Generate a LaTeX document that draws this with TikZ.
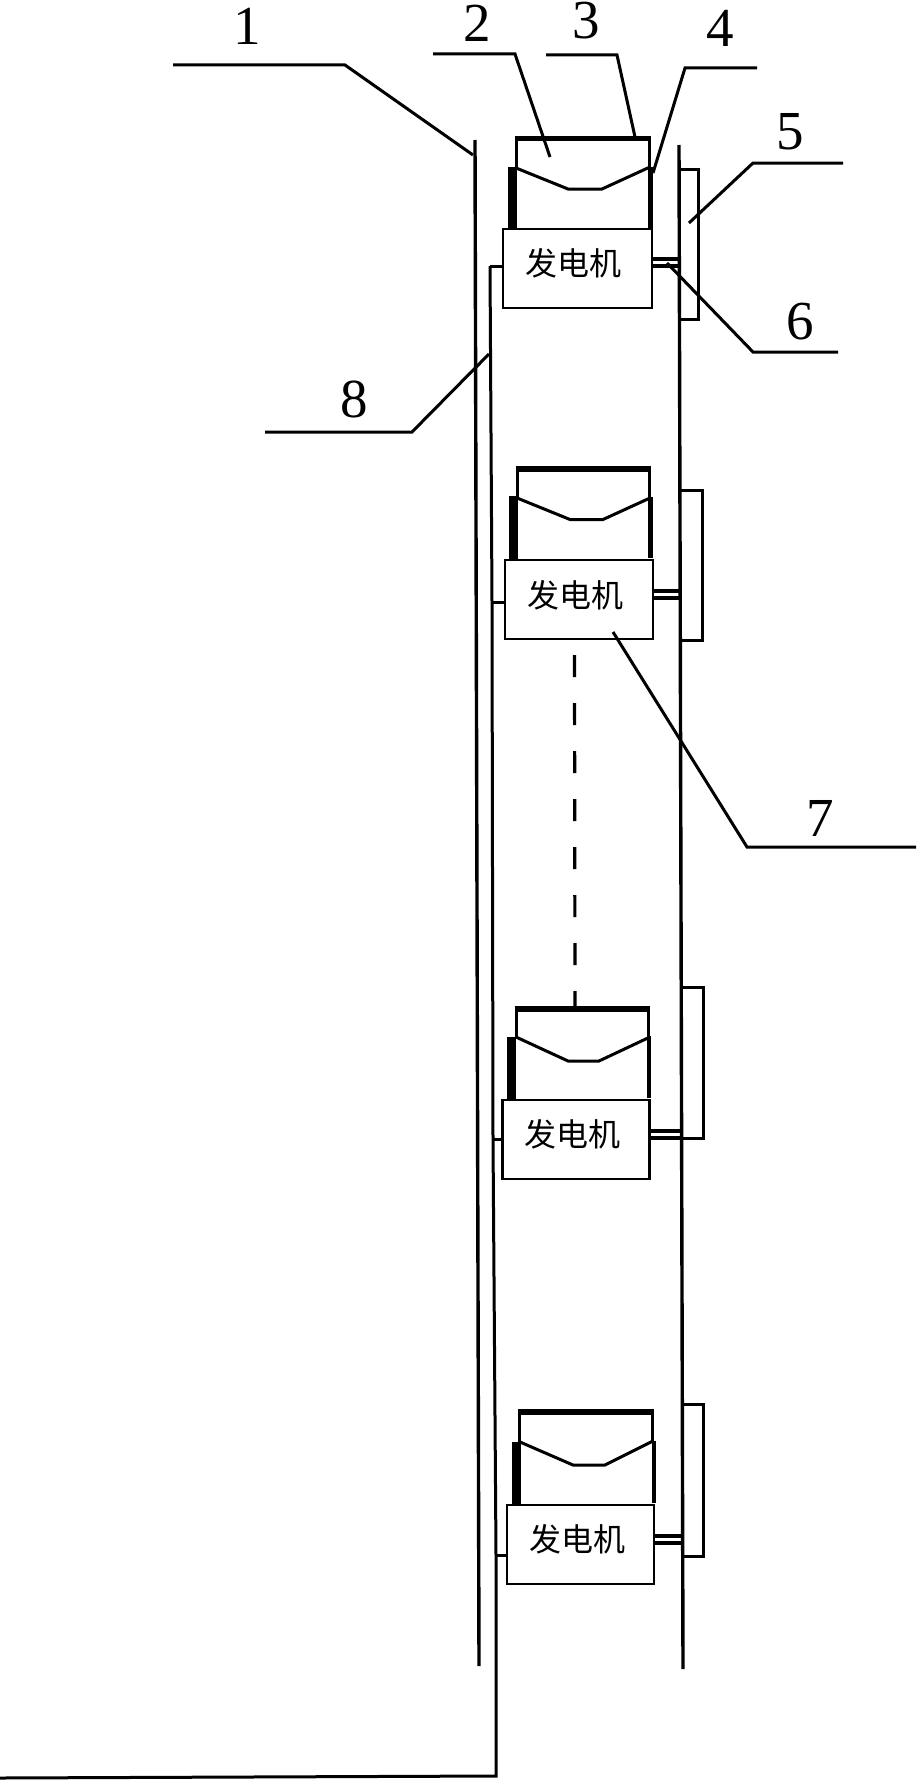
\documentclass[tikz,border=0pt]{standalone}
\usepackage{fontspec}
\setmainfont{Liberation Serif}
\newfontfamily\cjk{Noto Sans CJK SC}
\tikzset{
  wall/.style={line width=3.4pt,black},
  ln/.style={line width=3pt,line join=miter,black},
  thin ln/.style={line width=3.2pt,black},
  topbar/.style={line width=5.5pt,black},
  sidebar/.style={line width=9pt,black},
  rside/.style={line width=4.5pt,black},
  gen/.style={draw=black,line width=2.8pt,fill=white,inner sep=0pt,minimum width=147pt,minimum height=79pt},
  gentext/.style={font=\cjk\fontsize{32}{32}\selectfont,inner sep=0pt,text=black},
  num/.style={font=\fontsize{55}{55}\selectfont,inner sep=0pt,text=black},
  leader/.style={line width=3pt,black},
  dash line/.style={line width=3.2pt,black,dash pattern=on 22pt off 26pt}
}
\begin{document}
\begin{tikzpicture}[x=1pt,y=-1pt]
\useasboundingbox (0,0) rectangle (916,1782);
\fill[white] (0,0) rectangle (916,1782);
% walls
\coordinate (wlt) at (475,140); \coordinate (wlb) at (479,1666);
\coordinate (wrt) at (679,145); \coordinate (wrb) at (683,1669);
\draw[wall] (wlt) -- (wlb);
\draw[wall] (wrt) -- (wrb);
% bus
\coordinate (b1) at (490,266); \coordinate (b2) at (492,602); \coordinate (b3) at (493,1139);
\coordinate (b4) at (496,1555); \coordinate (b5) at (496,1776); \coordinate (b6) at (0,1778);
\draw[ln] (b1) -- (b2) -- (b3) -- (b4) -- (b5) -- (b6);
% unit 1
\draw[ln] (516,138) -- (516,168);
\draw[topbar] (514.5,138.5) -- (650.5,138.5);
\draw[ln] (649,138) -- (649,168);
\draw[rside] (650.5,167) -- (650.5,228);
\draw[sidebar] (512.5,167) -- (512.5,229);
\draw[ln] (516,168) -- (568,189) -- (602,189) -- (650,167);
\node[gen,minimum width=149pt] (g1) at (577.5,268.5) {};
\node[gentext] (t1) at (573,263) {发电机};
\draw[ln] (679,169) -- (698,169) -- (698,319) -- (679,319);
\coordinate (s1a) at (679,259); \coordinate (s1b) at (679,266);
\draw[thin ln] (g1.east |- s1a) -- (s1a);
\draw[thin ln] (g1.east |- s1b) -- (s1b);
\draw[ln] (b1) -- (g1.west |- b1);
% unit 2
\draw[ln] (517,469) -- (517,498);
\draw[topbar] (515.5,469) -- (650.5,469);
\draw[ln] (649,469) -- (649,498);
\draw[rside] (650.5,497) -- (650.5,558);
\draw[sidebar] (513,496) -- (513,559);
\draw[ln] (517,498) -- (570,519.5) -- (603,519.5) -- (650,498);
\node[gen,minimum width=148pt] (g2) at (579,599.5) {};
\node[gentext] (t2) at (575,595) {发电机};
\draw[ln] (680,490) -- (702,490) -- (702,640) -- (680,640);
\coordinate (s2a) at (680,591); \coordinate (s2b) at (680,598);
\draw[thin ln] (g2.east |- s2a) -- (s2a);
\draw[thin ln] (g2.east |- s2b) -- (s2b);
\draw[ln] (b2) -- (g2.west |- b2);
% unit 3
\draw[ln] (516,1009) -- (516,1037);
\draw[topbar] (514.5,1009) -- (649.5,1009);
\draw[ln] (648,1009) -- (648,1037);
\draw[rside] (649,1036) -- (649,1098);
\draw[sidebar] (511.5,1037) -- (511.5,1099);
\draw[ln] (516,1037) -- (568,1061) -- (599,1061) -- (650,1037);
\node[gen] (g3) at (576,1139.5) {};
\node[gentext] (t3) at (572,1134) {发电机};
\draw[ln] (681,987) -- (703,987) -- (703,1138) -- (681,1138);
\coordinate (s3a) at (681,1131); \coordinate (s3b) at (681,1138);
\draw[thin ln] (g3.east |- s3a) -- (s3a);
\draw[thin ln] (g3.east |- s3b) -- (s3b);
\draw[ln] (b3) -- (g3.west |- b3);
% unit 4
\draw[ln] (519,1412) -- (519,1442);
\draw[topbar] (517.5,1412) -- (653.5,1412);
\draw[ln] (652.5,1412) -- (652.5,1442);
\draw[rside] (654,1441) -- (654,1503);
\draw[sidebar] (516,1442) -- (516,1504);
\draw[ln] (520,1442) -- (573,1465) -- (605,1465) -- (653,1441);
\node[gen] (g4) at (580.5,1544.5) {};
\node[gentext] (t4) at (577,1539) {发电机};
\draw[ln] (682,1404) -- (703,1404) -- (703,1556) -- (682,1556);
\coordinate (s4a) at (682,1536); \coordinate (s4b) at (682,1543);
\draw[thin ln] (g4.east |- s4a) -- (s4a);
\draw[thin ln] (g4.east |- s4b) -- (s4b);
\draw[ln] (b4) -- (g4.west |- b4);
% dashed link
\coordinate (d1) at (574.5,655); \coordinate (d2) at (575,1008);
\draw[dash line] (d1) -- (d2);
% numbers
\node[num] (n1) at (247,26) {1};
\node[num] (n2) at (477,23) {2};
\node[num] (n3) at (586,21) {3};
\node[num] (n4) at (720,28) {4};
\node[num] (n5) at (790,132) {5};
\node[num] (n6) at (800,322) {6};
\node[num] (n7) at (820,818) {7};
\node[num] (n8) at (354,399) {8};
% leaders
\draw[leader] (173,65) -- (345,65) -- (473,155);
\draw[leader] (433,54) -- (515,54) -- (550,157);
\draw[leader] (546,55) -- (617,55) -- (635,137);
\draw[leader] (757,68) -- (685,68) -- (653,173);
\draw[leader] (843,163) -- (753,163) -- (689,223);
\draw[leader] (838,352) -- (753,352) -- (667,263);
\draw[leader] (613,632) -- (747,847) -- (916,847);
\draw[leader] (265,432) -- (412,432) -- (489,354);
\end{tikzpicture}
\end{document}
